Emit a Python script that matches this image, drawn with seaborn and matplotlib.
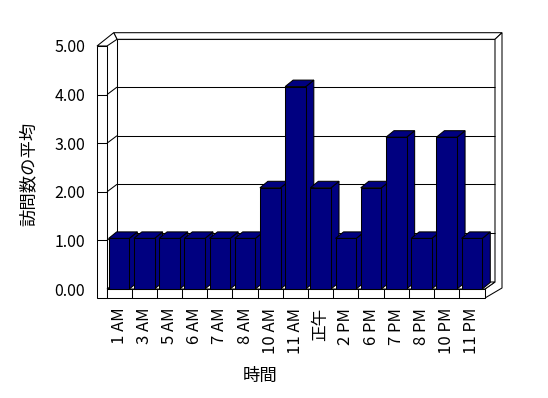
import matplotlib
matplotlib.use("Agg")
import matplotlib.pyplot as plt
import seaborn as sns
import pandas as pd
from matplotlib.patches import Polygon

# ---- data ----
hours = ["1 AM", "3 AM", "5 AM", "6 AM", "7 AM", "8 AM", "10 AM", "11 AM",
         "正午", "2 PM", "6 PM", "7 PM", "8 PM", "10 PM", "11 PM"]
visits = [1, 1, 1, 1, 1, 1, 2, 4, 2, 1, 2, 3, 1, 3, 1]
y_ticks = [0, 1, 2, 3, 4, 5]
x_title = "時間"
y_title = "訪問数の平均"

W, H = 548, 398
sns.set_theme(style="white")
plt.rcParams['font.family'] = ['Noto Sans CJK JP', 'DejaVu Sans']
LW = 0.75
NAVY = "#000080"

fig = plt.figure(figsize=(W / 100, H / 100), dpi=100)
fig.patch.set_facecolor("white")


def rect(x0, y0, x1, y1):
    return [x0 / W, 1 - y1 / H, (x1 - x0) / W, (y1 - y0) / H]


# ---- frame axes (walls, floor, value labels) : x in pixels, y in values ----
FY0, FY5 = 289.0, 46.0
ax2 = fig.add_axes(rect(97, FY5, 503, FY0))
ax2.set_xlim(97, 503)
ax2.set_ylim(y_ticks[0], y_ticks[-1])
ax2.set_facecolor("none")
for s in ax2.spines.values():
    s.set_visible(False)
unit = (FY0 - FY5) / (y_ticks[-1] - y_ticks[0])


def Y(q):
    return (FY0 - q) / unit


def poly(pts, fc="white", z=1):
    p = Polygon([(x, Y(y)) for x, y in pts], closed=True, facecolor=fc,
                edgecolor="black", linewidth=LW, clip_on=False, zorder=z)
    ax2.add_patch(p)


def line(xs, ys, z=2):
    ax2.plot(xs, ys, color="black", linewidth=LW, clip_on=False, zorder=z,
             solid_capstyle="butt")


# back wall inner face
poly([(117, 39.3), (495, 39.3), (495, 282), (117, 282)])
# back wall top face
poly([(113.7, 32.7), (502, 32.7), (495, 39.3), (117, 39.3)])
# right side face of wall + floor
poly([(495, 39.3), (502, 32.7), (502, 288), (485, 298), (485, 289), (495, 282)])
# left slab top face and front face
poly([(97, 46), (107, 46), (117, 39.3), (113.7, 32.7)])
poly([(97, 46), (107, 46), (107, 298), (97, 298)])
# floor top & front
poly([(107, 289), (485, 289), (495, 282), (117, 282)])
poly([(107, 289), (485, 289), (485, 298), (107, 298)])

back = 7.5 / unit
for v in y_ticks[1:-1]:
    line([117, 495], [v + back, v + back], z=1.5)
    line([97, 107], [v, v])
    line([107, 117], [v, v + back])

ax2.set_xticks([])
ax2.set_yticks(y_ticks)
ax2.set_yticklabels([f"{v:.2f}" for v in y_ticks])
ax2.tick_params(axis="y", length=0, pad=8.5, labelsize=11.5, colors="black")

# ---- bar axes ----
ax = fig.add_axes(rect(97, FY5, 503, FY0))
ax.set_facecolor("none")
df = pd.DataFrame({"hour": hours, "visits": visits})
sns.barplot(data=df, x="hour", y="visits", color=NAVY, saturation=1,
            width=0.82, edgecolor="black", linewidth=LW, ax=ax, zorder=3)
BX0, BSP = 119.0, 25.21
BU = 50.6
ax.set_xlim((97 - BX0) / BSP, (503 - BX0) / BSP)
ax.set_ylim(0, (FY0 - FY5) / BU)
for s in ax.spines.values():
    s.set_visible(False)

dx, dy = 8 / BSP, 6.5 / BU
for p in list(ax.patches):
    p.set_clip_on(False)
    p.set_zorder(3)
    x0, w, h = p.get_x(), p.get_width(), p.get_height()
    x1 = x0 + w
    top = Polygon([(x0, h), (x0 + dx, h + dy), (x1 + dx, h + dy), (x1, h)],
                  closed=True, facecolor=NAVY, edgecolor="black",
                  linewidth=LW, clip_on=False, zorder=2)
    side = Polygon([(x1, 0), (x1 + dx, dy), (x1 + dx, h + dy), (x1, h)],
                   closed=True, facecolor=NAVY, edgecolor="black",
                   linewidth=LW, clip_on=False, zorder=2)
    ax.add_patch(side)
    ax.add_patch(top)

# floor front dividers at category boundaries
ax.vlines([i + 0.5 for i in range(len(hours) - 1)], -9 / BU, 0,
          colors="black", linewidth=LW, clip_on=False, zorder=4)

ax.set_yticks([])
ax.set_xlabel("")
ax.set_ylabel("")
ax.tick_params(axis="x", length=0, pad=13.5, labelsize=12, colors="black",
               labelrotation=90)

fig.text(29 / W, 1 - 174 / H, y_title, rotation=90, ha="center", va="center",
         fontsize=12.5, color="black")
fig.text(260 / W, 1 - 376 / H, x_title, ha="center", va="center",
         fontsize=12.5, color="black")

fig.savefig("out.png", dpi=100, facecolor="white")
